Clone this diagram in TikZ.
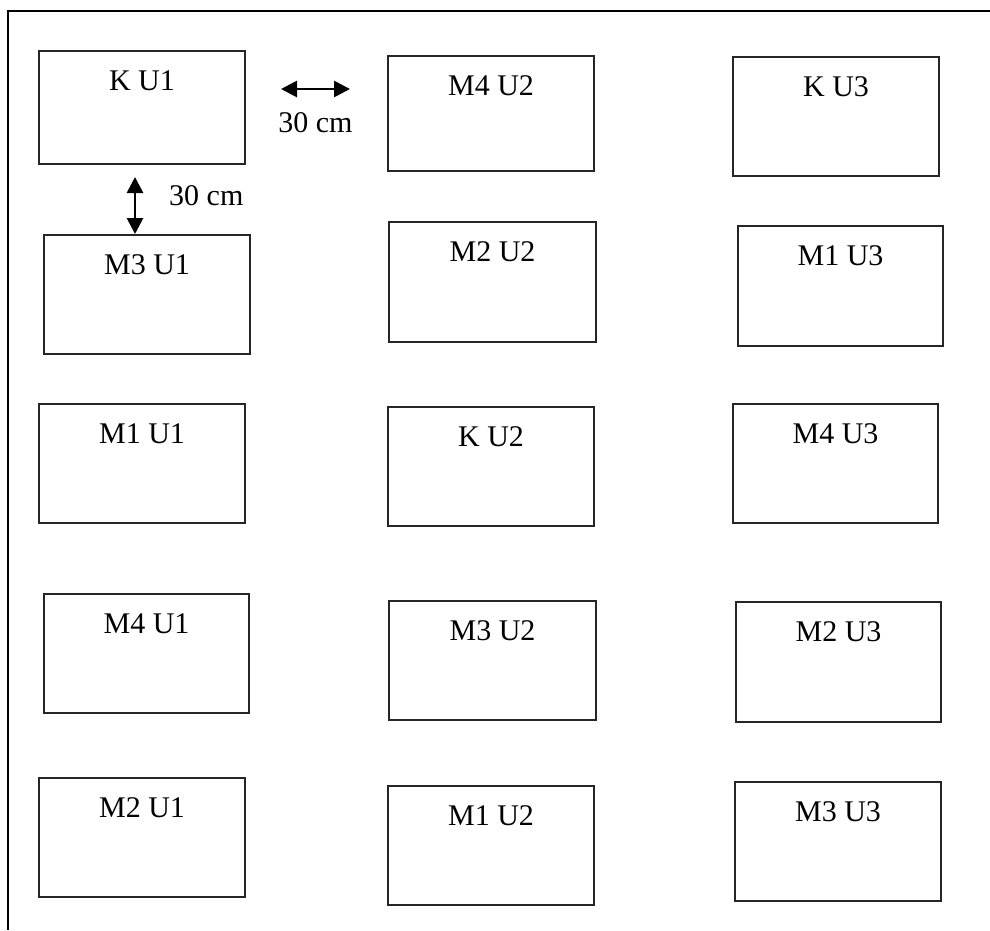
\documentclass[tikz,border=0pt]{standalone}
\usepackage{fontspec}
\setmainfont{Liberation Serif}
\usetikzlibrary{arrows.meta,calc}
\begin{document}
\begin{tikzpicture}[x=1pt,y=-1pt,
  box/.style={draw=black!85,line width=1.4pt,inner sep=0pt,outer sep=0pt,fill=white},
  lbl/.style={anchor=base,inner sep=0pt,font=\fontsize{30}{35}\selectfont},
  dim/.style={line width=2.8pt,{Triangle[length=16pt,width=16pt]}-{Triangle[length=16pt,width=16pt]}},
  frame/.style={line width=2.6pt}]
\useasboundingbox (0,0) rectangle (990,930);
% frame (open on right and bottom)
\coordinate (fb) at (8,930);
\coordinate (fc) at (8,11);
\coordinate (fr) at (990,11);
\draw[frame] (fb) -- (fc) -- (fr);
% boxes: name / centre / size / text
\foreach \n/\cx/\cy/\w/\h/\t in {
  KUa/142/107.5/206/113/K U1,
  MdUb/491/113.5/206/115/M4 U2,
  KUc/836/116.5/206/119/K U3,
  McUa/147/294.5/206/119/M3 U1,
  MbUb/492.5/282/207/120/M2 U2,
  MaUc/840.5/286/205/120/M1 U3,
  MaUa/142/463.5/206/119/M1 U1,
  KUb/491/466.5/206/119/K U2,
  MdUc/835.5/463.5/205/119/M4 U3,
  MdUa/146.5/653.5/205/119/M4 U1,
  McUb/492.5/660.5/207/119/M3 U2,
  MbUc/838.5/662/205/120/M2 U3,
  MbUa/142/837.5/206/119/M2 U1,
  MaUb/491/845.5/206/119/M1 U2,
  McUc/838/841.5/206/119/M3 U3}{
  \node[box,minimum width=\w,minimum height=\h] (\n) at (\cx,\cy) {};
  \node[lbl] (\n-t) at ($(\n.north)+(0,39.5)$) {\t};
}
% horizontal dimension arrow
\coordinate (ha) at (281,89);
\coordinate (hb) at (350,89);
\draw[dim] (ha) -- (hb);
\node[lbl] (hl) at (315.5,132) {30 cm};
% vertical dimension arrow
\coordinate (va) at (135,177);
\coordinate (vb) at (135,234);
\draw[dim] (va) -- (vb);
\node[lbl,anchor=base west] (vl) at (169,205) {30 cm};
\end{tikzpicture}
\end{document}
